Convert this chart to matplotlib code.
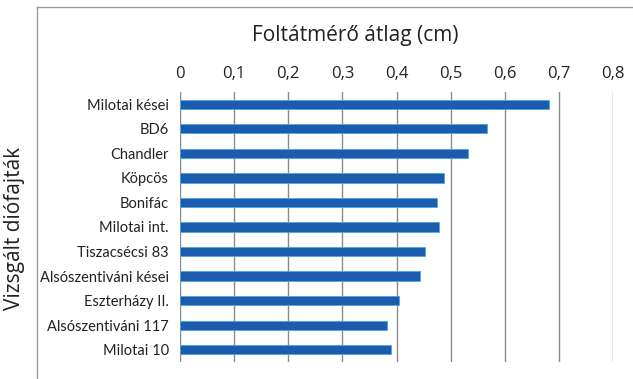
import matplotlib.pyplot as plt
from matplotlib.lines import Line2D

# varieties top to bottom
varieties = [
    "Milotai kései", "BD6", "Chandler", "Köpcös", "Bonifác", "Milotai int.",
    "Tiszacsécsi 83", "Alsószentiváni kései", "Eszterházy II.",
    "Alsószentiváni 117", "Milotai 10",
]
spot_diam = [0.682, 0.568, 0.533, 0.488, 0.474, 0.479, 0.453, 0.444, 0.404, 0.383, 0.389]
x_ticks = [0, 0.1, 0.2, 0.3, 0.4, 0.5, 0.6, 0.7, 0.8]
x_ticklabels = ["0", "0,1", "0,2", "0,3", "0,4", "0,5", "0,6", "0,7", "0,8"]

W, H = 633, 379
fig = plt.figure(figsize=(W / 100, H / 100), dpi=100)
ax = fig.add_axes([180 / W, 1 - 362 / H, (613 - 180) / W, (362 - 92) / H])

pos = list(range(len(varieties)))
ax.barh(pos, spot_diam, height=0.38, color="#1b5cae", edgecolor="#4aa8e0",
        linewidth=0.6, zorder=3)

ax.set_ylim(len(varieties) - 0.5, -0.5)
ax.set_xlim(0, 0.8)
ax.set_yticks(pos)
ax.set_yticklabels(varieties, fontsize=10.5, family="Lato", color="#222222")
ax.set_xticks(x_ticks)
ax.set_xticklabels(x_ticklabels, fontsize=12, family="Open Sans", color="#222222")
ax.xaxis.tick_top()
ax.tick_params(axis="x", length=0, pad=7)
ax.tick_params(axis="y", length=0, pad=8)
ax.grid(axis="x", color="#8a8a8a", linewidth=1, zorder=0)
for s in ax.spines.values():
    s.set_visible(False)

fig.text(355 / W, 1 - 36 / H, "Foltátmérő átlag (cm)", ha="center", va="center",
         fontsize=15, family="Open Sans", color="#222222")
fig.text(15 / W, 1 - 228 / H, "Vizsgált diófajták", ha="center", va="center",
         rotation=90, fontsize=15, family="Open Sans", color="#222222")

# outer frame (only top and left visible in the crop)
fig.add_artist(Line2D([37 / W, 37 / W], [0, 1 - 7 / H], transform=fig.transFigure,
                      color="#9a9a9a", linewidth=1))
fig.add_artist(Line2D([37 / W, 1], [1 - 7 / H, 1 - 7 / H], transform=fig.transFigure,
                      color="#9a9a9a", linewidth=1))

fig.savefig("out.png", dpi=100)
